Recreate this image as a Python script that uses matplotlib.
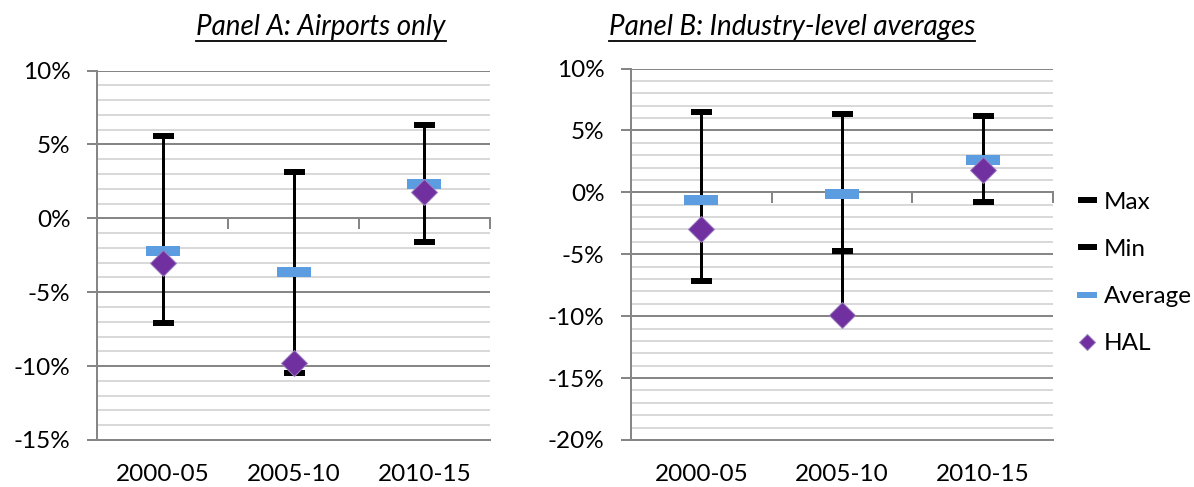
import numpy as np
import matplotlib
matplotlib.use("Agg")
import matplotlib.pyplot as plt
from matplotlib.lines import Line2D
from matplotlib.ticker import MultipleLocator, FuncFormatter

plt.rcParams['font.family'] = ['Lato', 'DejaVu Sans']

categories = ["2000-05", "2005-10", "2010-15"]

# Panel A: Airports only (percent)
a_max = [5.6, 3.1, 6.3]
a_min = [-7.1, -10.5, -1.6]
a_avg = [-2.2, -3.6, 2.3]
a_hal = [-3.0, -9.8, 1.8]

# Panel B: Industry-level averages (percent)
b_max = [6.5, 6.3, 6.2]
b_min = [-7.2, -4.7, -0.8]
b_avg = [-0.6, -0.1, 2.6]
b_hal = [-3.0, -9.9, 1.8]

titles = ["Panel A: Airports only", "Panel B: Industry-level averages"]

W, H = 1194, 487
fig = plt.figure(figsize=(W / 100, H / 100), dpi=100)

def ax_rect(l, r, t, b):
    return [l / W, (H - b) / H, (r - l) / W, (b - t) / H]

major_c = '#868686'
minor_c = '#D9D9D9'
blue = '#5C9CE0'
purple = '#7030A0'
px = 0.72  # points per pixel
FS = 17.5

def draw_panel(ax, mx, mn, av, hal, ylim):
    x = np.arange(len(categories))
    allv = np.vstack([mx, mn, av, hal])
    ax.set_xlim(-0.5, len(categories) - 0.5)
    ax.set_ylim(*ylim)
    ax.yaxis.set_major_locator(MultipleLocator(5))
    ax.yaxis.set_minor_locator(MultipleLocator(1))
    ax.yaxis.set_major_formatter(FuncFormatter(lambda v, p: f"{v:.0f}%"))
    ax.grid(axis='y', which='minor', color=minor_c, lw=2 * px, zorder=0)
    ax.grid(axis='y', which='major', color=major_c, lw=2 * px, zorder=0.5)
    ax.set_axisbelow(True)
    for s in ['top', 'right']:
        ax.spines[s].set_visible(False)
    ax.spines['left'].set_color(major_c)
    ax.spines['left'].set_linewidth(2 * px)
    ax.spines['bottom'].set_position(('data', 0))
    ax.spines['bottom'].set_color(major_c)
    ax.spines['bottom'].set_linewidth(2 * px)
    ax.set_xticks(np.arange(len(categories) + 1) - 0.5)
    ax.set_xticklabels([])
    ax.tick_params(axis='x', which='major', length=8, width=2 * px, color=major_c, direction='out')
    ax.tick_params(axis='y', which='major', length=7, width=2 * px, color=major_c,
                   labelsize=FS, pad=12)
    ax.tick_params(axis='y', which='minor', length=0)
    sec = ax.secondary_xaxis('bottom')
    sec.set_xticks(x)
    sec.set_xticklabels(categories)
    sec.tick_params(length=0, labelsize=FS, pad=17)
    sec.spines['bottom'].set_color(major_c)
    sec.spines['bottom'].set_linewidth(2 * px)
    # high-low lines
    ax.vlines(x, allv.min(axis=0), allv.max(axis=0), color='black', lw=3 * px, zorder=3)
    ax.plot(x, mx, ls='none', marker='_', ms=21 * px, mew=6 * px, color='black', zorder=4)
    ax.plot(x, mn, ls='none', marker='_', ms=21 * px, mew=6 * px, color='black', zorder=4)
    ax.plot(x, av, ls='none', marker='_', ms=34 * px, mew=10 * px, color=blue, zorder=5)
    ax.plot(x, hal, ls='none', marker='D', ms=19 * px, mfc=purple, mec='#9C7FC0',
            mew=1 * px, zorder=6)

axA = fig.add_axes(ax_rect(97, 490, 70.5, 440))
draw_panel(axA, a_max, a_min, a_avg, a_hal, (-15, 10))
axB = fig.add_axes(ax_rect(631, 1053, 68.5, 440))
draw_panel(axB, b_max, b_min, b_avg, b_hal, (-20, 10))

# titles with underline
title_pos = [(321 / W, 1 - 27 / H), (792 / W, 1 - 27 / H)]
tobjs = []
for (tx, ty), t in zip(title_pos, titles):
    tobjs.append(fig.text(tx, ty, t, ha='center', va='center', fontsize=20, style='italic'))
fig.canvas.draw()
r = fig.canvas.get_renderer()
for t in tobjs:
    bb = t.get_window_extent(r)
    y = (bb.y0 - 1) / H
    fig.add_artist(Line2D([bb.x0 / W, bb.x1 / W], [y, y], transform=fig.transFigure,
                          color='black', lw=1.8 * px))

handles = [
    Line2D([], [], ls='none', marker='_', ms=19 * px, mew=6 * px, color='black'),
    Line2D([], [], ls='none', marker='_', ms=19 * px, mew=6 * px, color='black'),
    Line2D([], [], ls='none', marker='_', ms=20 * px, mew=6 * px, color=blue),
    Line2D([], [], ls='none', marker='D', ms=12 * px, mfc=purple, mec='#9C7FC0', mew=1 * px),
]
fig.legend(handles, ["Max", "Min", "Average", "HAL"], loc='center left',
           bbox_to_anchor=(1066 / W, 1 - 273 / H), frameon=False, fontsize=FS,
           handlelength=0.9, handletextpad=0.25, labelspacing=1.07, borderaxespad=0)

fig.savefig("out.png", dpi=100)
